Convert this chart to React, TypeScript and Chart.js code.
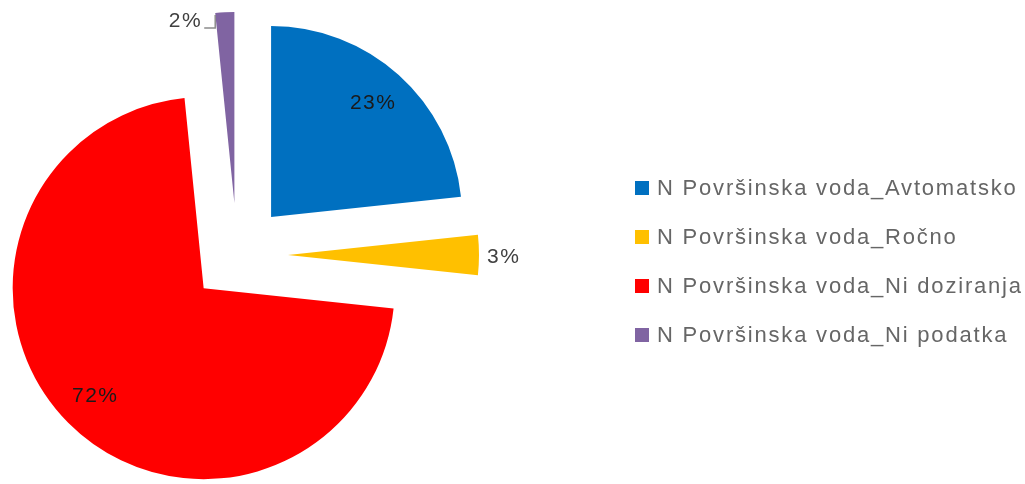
import React, { useEffect, useRef } from "react";
import { Chart, registerables } from "chart.js";

Chart.register(...registerables);

// ---- data ----
const categories: string[] = [
  "N Površinska voda_Avtomatsko",
  "N Površinska voda_Ročno",
  "N Površinska voda_Ni doziranja",
  "N Površinska voda_Ni podatka",
];
const shares: number[] = [23.3, 3.4, 71.7, 1.6];

// ---- styles ----
const colors = ["#0070C0", "#FFC000", "#FF0000", "#8064A2"];
const explode = [51, 51, 47, 52]; // px displacement of each slice
const labelModes = ["inside", "outside", "inside", "leader"];
const RADIUS = 191;
const FONT = "'Liberation Sans', Arial, sans-serif";

const total = shares.reduce((a, b) => a + b, 0);
const pctText = (v: number) => Math.round((v / total) * 100) + "%";

// Explode each slice outward along its mid angle
const explodePlugin = {
  id: "explodeSlices",
  beforeDatasetsDraw(chart: any) {
    const { left, right, top, bottom } = chart.chartArea;
    const cx = (left + right) / 2;
    const cy = (top + bottom) / 2;
    const meta = chart.getDatasetMeta(0);
    meta.data.forEach((el: any, i: number) => {
      const mid = (el.startAngle + el.endAngle) / 2;
      el.x = cx + Math.cos(mid) * explode[i];
      el.y = cy + Math.sin(mid) * explode[i];
    });
  },
};

const labelPlugin = {
  id: "sliceLabels",
  afterDatasetsDraw(chart: any) {
    const ctx: CanvasRenderingContext2D = chart.ctx;
    const meta = chart.getDatasetMeta(0);
    ctx.save();
    (ctx as any).letterSpacing = "1.5px";
    ctx.font = `21px ${FONT}`;
    ctx.textBaseline = "middle";
    meta.data.forEach((el: any, i: number) => {
      const { x: vx, y: vy, startAngle, endAngle, outerRadius } = el;
      const mid = (startAngle + endAngle) / 2;
      const text = pctText(shares[i]);
      const mode = labelModes[i];
      if (mode === "inside") {
        ctx.fillStyle = "#1a1a1a";
        ctx.textAlign = "center";
        const r = outerRadius * 0.8;
        ctx.fillText(text, vx + Math.cos(mid) * r, vy + Math.sin(mid) * r);
      } else if (mode === "outside") {
        ctx.fillStyle = "#404040";
        ctx.textAlign = "left";
        const r = outerRadius + 8;
        ctx.fillText(text, vx + Math.cos(mid) * r, vy + Math.sin(mid) * r + 2);
      } else {
        const px = vx + Math.cos(startAngle) * outerRadius;
        const py = vy + Math.sin(startAngle) * outerRadius;
        ctx.strokeStyle = "#8c8c8c";
        ctx.lineWidth = 1.5;
        ctx.beginPath();
        ctx.moveTo(px, py + 2);
        ctx.lineTo(px, py + 15);
        ctx.lineTo(px - 11, py + 15);
        ctx.stroke();
        ctx.fillStyle = "#404040";
        ctx.textAlign = "right";
        ctx.fillText(text, px - 13, py + 8);
      }
    });
    ctx.restore();
  },
};

const legendPlugin = {
  id: "sideLegend",
  afterDraw(chart: any) {
    const ctx: CanvasRenderingContext2D = chart.ctx;
    ctx.save();
    (ctx as any).letterSpacing = "1.8px";
    ctx.font = `22px ${FONT}`;
    ctx.textBaseline = "middle";
    ctx.textAlign = "left";
    categories.forEach((name, i) => {
      const cy = 188 + i * 49;
      ctx.fillStyle = colors[i];
      ctx.fillRect(635, cy - 7, 14, 14);
      ctx.fillStyle = "#666666";
      ctx.fillText(name, 657, cy + 1);
    });
    ctx.restore();
  },
};

export default function App() {
  const ref = useRef<HTMLCanvasElement | null>(null);
  useEffect(() => {
    if (!ref.current) return;
    const chart = new Chart(ref.current, {
      type: "pie",
      data: {
        labels: categories,
        datasets: [
          {
            data: shares,
            backgroundColor: colors,
            borderWidth: 0,
            offset: 0,
            hoverOffset: 0,
            clip: false as any,
          } as any,
        ],
      },
      options: {
        responsive: false,
        maintainAspectRatio: false,
        animation: false,
        events: [],
        radius: RADIUS,
        layout: { padding: { left: 0, right: 1025 - 2 * 237, top: 2 * 255 - 484, bottom: 0 } },
        plugins: {
          legend: { display: false },
          tooltip: { enabled: false },
        },
      } as any,
      plugins: [explodePlugin, labelPlugin, legendPlugin],
    });
    return () => chart.destroy();
  }, []);
  return (
    <div style={{ position: "absolute", left: 0, top: 0, width: 1025, height: 484, background: "#fff" }}>
      <canvas ref={ref} width={1025} height={484} style={{ display: "block" }} />
    </div>
  );
}
